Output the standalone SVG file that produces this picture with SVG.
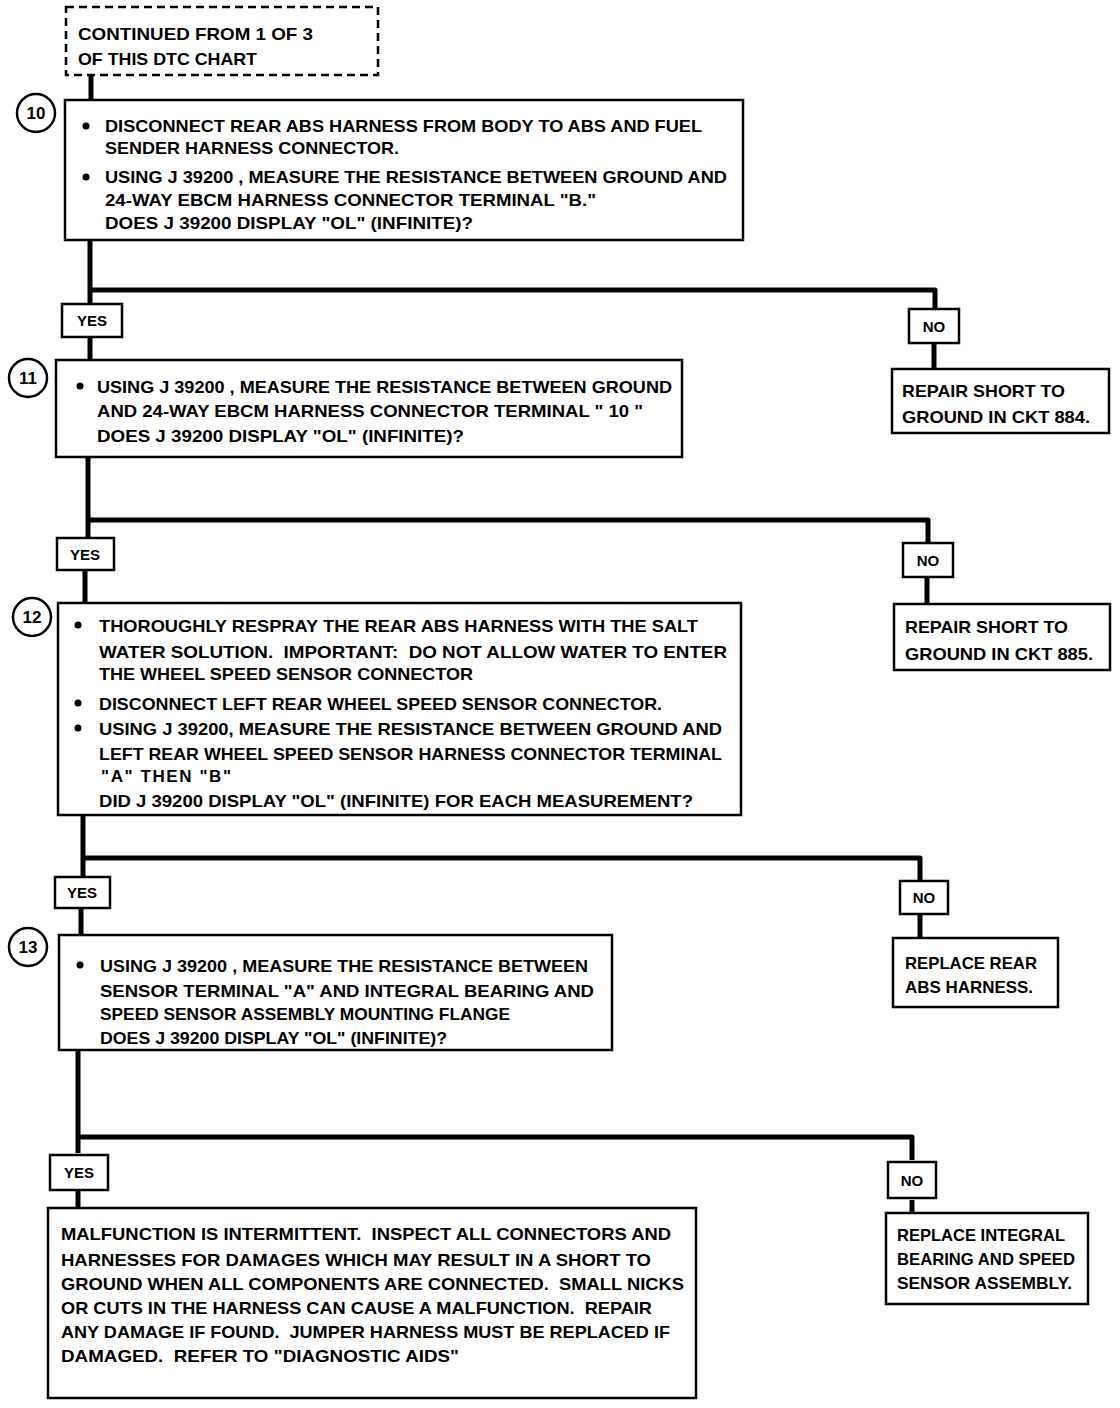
<svg xmlns="http://www.w3.org/2000/svg" width="1120" height="1408" viewBox="0 0 1120 1408">
<style>
.bg{fill:#fff}
.box{fill:#fff;stroke:#000;stroke-width:2.5}
.dash{fill:#fff;stroke:#000;stroke-width:2.5;stroke-dasharray:8 5}
.conn{fill:none;stroke:#000;stroke-width:5;stroke-linejoin:round}
.t{font-family:"Liberation Sans Narrow","Liberation Sans","DejaVu Sans Condensed",sans-serif;font-weight:bold;font-size:17px;fill:#000;white-space:pre}
.lbl{font-family:"Liberation Sans","DejaVu Sans",sans-serif;font-weight:bold;font-size:15px;fill:#000;text-anchor:middle}
.num{font-family:"Liberation Sans","DejaVu Sans",sans-serif;font-weight:bold;font-size:17px;fill:#000;text-anchor:middle}
.circ{fill:#fff;stroke:#000;stroke-width:2.5}
.dot{fill:#000}
</style>
<rect class="bg" x="0" y="0" width="1120" height="1408"/>
<g id="connectors">
<path class="conn" d="M91,75 V100"/>
<path class="conn" d="M90,240 V303"/>
<path class="conn" d="M90,290 H935 V308"/>
<path class="conn" d="M90,337 V360"/>
<path class="conn" d="M934,343 V369"/>
<path class="conn" d="M88,457 V538"/>
<path class="conn" d="M88,520 H928 V542"/>
<path class="conn" d="M85,570 V603"/>
<path class="conn" d="M927,577 V604"/>
<path class="conn" d="M83,815 V878"/>
<path class="conn" d="M83,858 H920 V881"/>
<path class="conn" d="M81,908 V935"/>
<path class="conn" d="M920,914 V938"/>
<path class="conn" d="M78,1050 V1153"/>
<path class="conn" d="M78,1137 H912 V1160"/>
<path class="conn" d="M78,1190 V1208"/>
<path class="conn" d="M912,1200 V1213"/>
</g>
<g id="start">
<rect class="dash" x="66" y="7" width="312" height="68"/>
<text class="t" x="78" y="40" textLength="235" lengthAdjust="spacingAndGlyphs">CONTINUED FROM 1 OF 3</text>
<text class="t" x="78" y="65" textLength="179" lengthAdjust="spacingAndGlyphs">OF THIS DTC CHART</text>
</g>
<g id="step10">
<rect class="box" x="65" y="100" width="678" height="140"/>
<circle class="circ" cx="36" cy="113" r="19"/>
<text class="num" x="36" y="119">10</text>
<circle class="dot" cx="86" cy="126" r="3.5"/>
<circle class="dot" cx="86" cy="177" r="3.5"/>
<text class="t" x="105" y="132" textLength="597" lengthAdjust="spacingAndGlyphs">DISCONNECT REAR ABS HARNESS FROM BODY TO ABS AND FUEL</text>
<text class="t" x="105" y="154" textLength="294" lengthAdjust="spacingAndGlyphs">SENDER HARNESS CONNECTOR.</text>
<text class="t" x="105" y="183" textLength="622" lengthAdjust="spacingAndGlyphs">USING J 39200 , MEASURE THE RESISTANCE BETWEEN GROUND AND</text>
<text class="t" x="105" y="206" textLength="491" lengthAdjust="spacingAndGlyphs">24-WAY EBCM HARNESS CONNECTOR TERMINAL "B."</text>
<text class="t" x="105" y="229" textLength="368" lengthAdjust="spacingAndGlyphs">DOES J 39200 DISPLAY "OL" (INFINITE)?</text>
</g>
<g id="yes1">
<rect class="box" x="62" y="304" width="60" height="33"/>
<text class="lbl" x="92" y="326">YES</text>
</g>
<g id="no1">
<rect class="box" x="909" y="309" width="50" height="34"/>
<text class="lbl" x="934" y="332">NO</text>
</g>
<g id="repair884">
<rect class="box" x="892" y="369" width="217" height="64"/>
<text class="t" x="902" y="397" textLength="163" lengthAdjust="spacingAndGlyphs">REPAIR SHORT TO</text>
<text class="t" x="902" y="423" textLength="188" lengthAdjust="spacingAndGlyphs">GROUND IN CKT 884.</text>
</g>
<g id="step11">
<rect class="box" x="56" y="360" width="626" height="97"/>
<circle class="circ" cx="28" cy="378" r="19"/>
<text class="num" x="28" y="384">11</text>
<circle class="dot" cx="80" cy="386" r="3.5"/>
<text class="t" x="97" y="393" textLength="575" lengthAdjust="spacingAndGlyphs">USING J 39200 , MEASURE THE RESISTANCE BETWEEN GROUND</text>
<text class="t" x="97" y="417" textLength="546" lengthAdjust="spacingAndGlyphs">AND 24-WAY EBCM HARNESS CONNECTOR TERMINAL " 10 "</text>
<text class="t" x="97" y="442" textLength="367" lengthAdjust="spacingAndGlyphs">DOES J 39200 DISPLAY "OL" (INFINITE)?</text>
</g>
<g id="yes2">
<rect class="box" x="57" y="538" width="57" height="32"/>
<text class="lbl" x="85" y="560">YES</text>
</g>
<g id="no2">
<rect class="box" x="903" y="543" width="50" height="34"/>
<text class="lbl" x="928" y="566">NO</text>
</g>
<g id="repair885">
<rect class="box" x="894" y="604" width="216" height="66"/>
<text class="t" x="905" y="633" textLength="163" lengthAdjust="spacingAndGlyphs">REPAIR SHORT TO</text>
<text class="t" x="905" y="660" textLength="188" lengthAdjust="spacingAndGlyphs">GROUND IN CKT 885.</text>
</g>
<g id="step12">
<rect class="box" x="58" y="603" width="683" height="212"/>
<circle class="circ" cx="32" cy="617" r="19"/>
<text class="num" x="32" y="623">12</text>
<circle class="dot" cx="78" cy="625" r="3.5"/>
<circle class="dot" cx="78" cy="703" r="3.5"/>
<circle class="dot" cx="78" cy="728" r="3.5"/>
<text class="t" x="99" y="632" textLength="599" lengthAdjust="spacingAndGlyphs">THOROUGHLY RESPRAY THE REAR ABS HARNESS WITH THE SALT</text>
<text class="t" x="99" y="658" textLength="628" lengthAdjust="spacingAndGlyphs">WATER SOLUTION.  IMPORTANT:  DO NOT ALLOW WATER TO ENTER</text>
<text class="t" x="99" y="680" textLength="374" lengthAdjust="spacingAndGlyphs">THE WHEEL SPEED SENSOR CONNECTOR</text>
<text class="t" x="99" y="710" textLength="563" lengthAdjust="spacingAndGlyphs">DISCONNECT LEFT REAR WHEEL SPEED SENSOR CONNECTOR.</text>
<text class="t" x="99" y="735" textLength="623" lengthAdjust="spacingAndGlyphs">USING J 39200, MEASURE THE RESISTANCE BETWEEN GROUND AND</text>
<text class="t" x="99" y="760" textLength="623" lengthAdjust="spacingAndGlyphs">LEFT REAR WHEEL SPEED SENSOR HARNESS CONNECTOR TERMINAL</text>
<text class="t" x="101" y="782" textLength="130" lengthAdjust="spacing">"A" THEN "B"</text>
<text class="t" x="99" y="807" textLength="594" lengthAdjust="spacingAndGlyphs">DID J 39200 DISPLAY "OL" (INFINITE) FOR EACH MEASUREMENT?</text>
</g>
<g id="yes3">
<rect class="box" x="55" y="877" width="55" height="31"/>
<text class="lbl" x="82" y="898">YES</text>
</g>
<g id="no3">
<rect class="box" x="900" y="881" width="48" height="33"/>
<text class="lbl" x="924" y="903">NO</text>
</g>
<g id="replaceRear">
<rect class="box" x="893" y="938" width="165" height="69"/>
<text class="t" x="905" y="969" textLength="132" lengthAdjust="spacingAndGlyphs">REPLACE REAR</text>
<text class="t" x="905" y="993" textLength="128" lengthAdjust="spacingAndGlyphs">ABS HARNESS.</text>
</g>
<g id="step13">
<rect class="box" x="59" y="935" width="553" height="115"/>
<circle class="circ" cx="28" cy="947" r="19"/>
<text class="num" x="28" y="953">13</text>
<circle class="dot" cx="80" cy="965" r="3.5"/>
<text class="t" x="100" y="972" textLength="488" lengthAdjust="spacingAndGlyphs">USING J 39200 , MEASURE THE RESISTANCE BETWEEN</text>
<text class="t" x="100" y="997" textLength="494" lengthAdjust="spacingAndGlyphs">SENSOR TERMINAL "A" AND INTEGRAL BEARING AND</text>
<text class="t" x="100" y="1020" textLength="410" lengthAdjust="spacingAndGlyphs">SPEED SENSOR ASSEMBLY MOUNTING FLANGE</text>
<text class="t" x="100" y="1044" textLength="347" lengthAdjust="spacingAndGlyphs">DOES J 39200 DISPLAY "OL" (INFINITE)?</text>
</g>
<g id="yes4">
<rect class="box" x="50" y="1155" width="58" height="35"/>
<text class="lbl" x="79" y="1178">YES</text>
</g>
<g id="no4">
<rect class="box" x="888" y="1162" width="48" height="36"/>
<text class="lbl" x="912" y="1186">NO</text>
</g>
<g id="replaceIntegral">
<rect class="box" x="886" y="1213" width="202" height="91"/>
<text class="t" x="897" y="1241" textLength="168" lengthAdjust="spacingAndGlyphs">REPLACE INTEGRAL</text>
<text class="t" x="897" y="1265" textLength="178" lengthAdjust="spacingAndGlyphs">BEARING AND SPEED</text>
<text class="t" x="897" y="1289" textLength="175" lengthAdjust="spacingAndGlyphs">SENSOR ASSEMBLY.</text>
</g>
<g id="intermittent">
<rect class="box" x="48" y="1208" width="648" height="190"/>
<text class="t" x="61" y="1240" textLength="610" lengthAdjust="spacingAndGlyphs">MALFUNCTION IS INTERMITTENT.  INSPECT ALL CONNECTORS AND</text>
<text class="t" x="61" y="1266" textLength="590" lengthAdjust="spacingAndGlyphs">HARNESSES FOR DAMAGES WHICH MAY RESULT IN A SHORT TO</text>
<text class="t" x="61" y="1290" textLength="623" lengthAdjust="spacingAndGlyphs">GROUND WHEN ALL COMPONENTS ARE CONNECTED.  SMALL NICKS</text>
<text class="t" x="61" y="1314" textLength="591" lengthAdjust="spacingAndGlyphs">OR CUTS IN THE HARNESS CAN CAUSE A MALFUNCTION.  REPAIR</text>
<text class="t" x="61" y="1338" textLength="609" lengthAdjust="spacingAndGlyphs">ANY DAMAGE IF FOUND.  JUMPER HARNESS MUST BE REPLACED IF</text>
<text class="t" x="61" y="1362" textLength="398" lengthAdjust="spacingAndGlyphs">DAMAGED.  REFER TO "DIAGNOSTIC AIDS"</text>
</g>
</svg>
